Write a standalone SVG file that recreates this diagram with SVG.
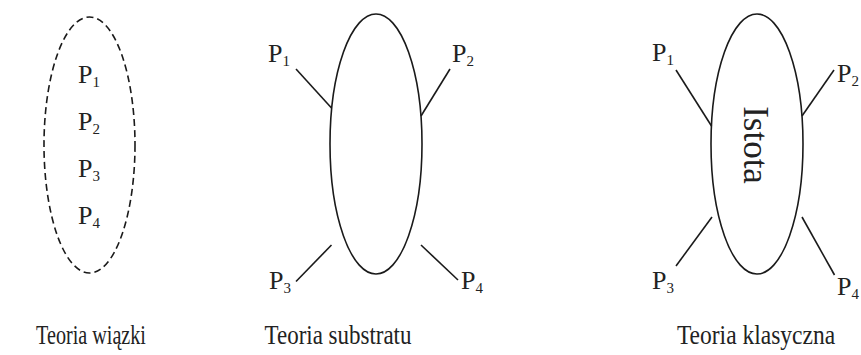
<svg xmlns="http://www.w3.org/2000/svg" width="861" height="355" viewBox="0 0 861 355">
<style>
text{font-family:"Liberation Serif","Times New Roman",serif;fill:#222;}
.p{font-size:26px;}
.s{font-size:15px;}
.lab{font-size:28px;text-anchor:middle;}
.ell{fill:none;stroke:#1a1a1a;stroke-width:1.6;}
.dash{stroke-dasharray:7 4;}
.ln{stroke:#1a1a1a;stroke-width:1.6;fill:none;}
</style>
<rect width="861" height="355" fill="#fff"/>
<g id="wiazka">
<ellipse class="ell dash" cx="89.5" cy="145" rx="45.5" ry="128"/>
<text class="p" x="78" y="83">P<tspan class="s" dy="4">1</tspan></text>
<text class="p" x="78" y="130">P<tspan class="s" dy="4">2</tspan></text>
<text class="p" x="78" y="177">P<tspan class="s" dy="4">3</tspan></text>
<text class="p" x="78" y="224">P<tspan class="s" dy="4">4</tspan></text>
<text class="lab" transform="translate(91,344) scale(0.72,1)">Teoria wiązki</text>
</g>
<g id="substrat">
<ellipse class="ell" cx="376" cy="144" rx="46" ry="130"/>
<text class="p" x="268" y="62">P<tspan class="s" dy="4">1</tspan></text>
<text class="p" x="452" y="62">P<tspan class="s" dy="4">2</tspan></text>
<text class="p" x="269" y="289">P<tspan class="s" dy="4">3</tspan></text>
<text class="p" x="461" y="289">P<tspan class="s" dy="4">4</tspan></text>
<text class="lab" transform="translate(338,344) scale(0.82,1)">Teoria substratu</text>
</g>
<g id="klasyczna">
<ellipse class="ell" cx="757" cy="144" rx="46" ry="130"/>
<text transform="translate(744,145) rotate(90)" font-size="35" text-anchor="middle">Istota</text>
<text class="p" x="652" y="61">P<tspan class="s" dy="4">1</tspan></text>
<text class="p" x="837" y="82">P<tspan class="s" dy="4">2</tspan></text>
<text class="p" x="652" y="289">P<tspan class="s" dy="4">3</tspan></text>
<text class="p" x="837" y="295">P<tspan class="s" dy="4">4</tspan></text>
<text class="lab" transform="translate(756,344) scale(0.84,1)">Teoria klasyczna</text>
</g>
<g id="connectors">
<line class="ln" x1="296" y1="69" x2="331.5" y2="108"/>
<line class="ln" x1="450" y1="69" x2="421" y2="116"/>
<line class="ln" x1="331.5" y1="245" x2="296" y2="281.5"/>
<line class="ln" x1="421" y1="245" x2="458" y2="280"/>
<line class="ln" x1="676" y1="70" x2="711.5" y2="126"/>
<line class="ln" x1="834" y1="70" x2="802" y2="116"/>
<line class="ln" x1="712" y1="217" x2="676" y2="266"/>
<line class="ln" x1="802" y1="217" x2="834.5" y2="275"/>
</g>
</svg>
